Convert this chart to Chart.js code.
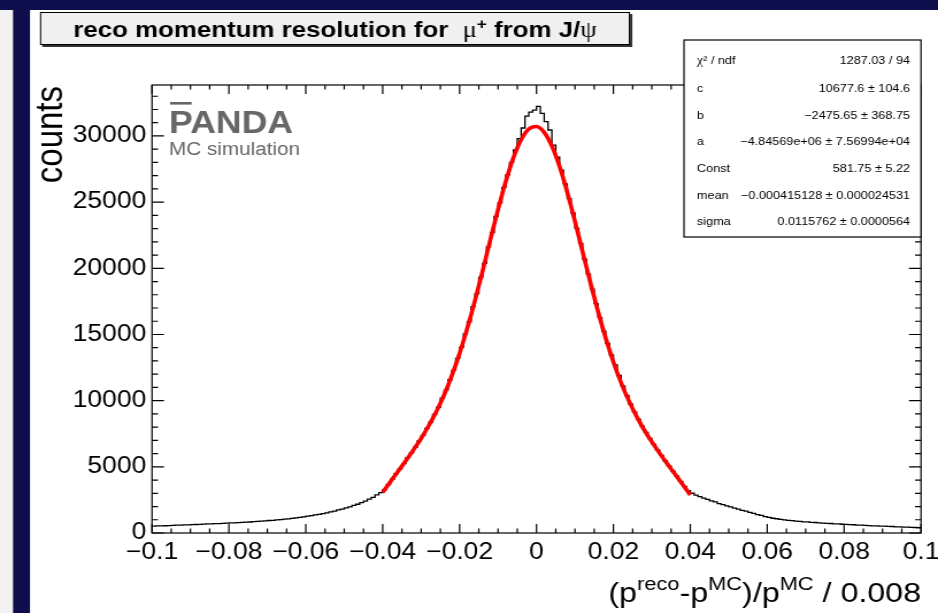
<!DOCTYPE html>
<html>
<head>
<meta charset="utf-8">
<script src="https://cdn.jsdelivr.net/npm/chart.js@4/dist/chart.umd.min.js"></script>
<style>
  html, body { margin: 0; padding: 0; background: #ffffff; overflow: hidden; }
  #c { display: block; }
</style>
</head>
<body>
<canvas id="c" width="816" height="613" style="width:938px;height:613px"></canvas>
<script>
// Momentum resolution histogram: 200 bins of width 0.001 on [-0.1, 0.1]
const binLow = -0.1;
const binWidth = 0.001;
const counts = [
  525, 531, 544, 546, 559, 571, 592, 598, 613, 620,
  638, 642, 655, 664, 683, 690, 709, 715, 733, 740,
  759, 768, 788, 797, 821, 833, 859, 873, 899, 915,
  944, 961, 993, 1012, 1049, 1072, 1112, 1139, 1184, 1218,
  1270, 1306, 1365, 1405, 1471, 1520, 1596, 1654, 1741, 1806,
  1902, 1979, 2088, 2174, 2297, 2404, 2552, 2694, 2878, 3052,
  3270, 3660, 4060, 4490, 4850, 5240, 5690, 6050, 6480, 6960,
  7370, 7900, 8370, 8960, 9490, 10180, 10790, 11580, 12300, 13190,
  14020, 15040, 15960, 17100, 18090, 19310, 20370, 21620, 22690, 23920,
  24940, 26100, 27060, 28000, 28950, 29800, 30600, 31500, 31800, 31950,
  32230, 31700, 31090, 30450, 29300, 28400, 27420, 26380, 25270, 24180,
  23020, 21880, 20700, 19560, 18420, 17330, 16280, 15260, 14320, 13450,
  12700, 11900, 11100, 10390, 9740, 9150, 8600, 8080, 7600, 7140,
  6700, 6270, 5860, 5460, 5060, 4670, 4290, 3900, 3520, 3200,
  3004, 2861, 2748, 2632, 2547, 2431, 2346, 2222, 2147, 2052,
  1968, 1873, 1806, 1713, 1647, 1562, 1487, 1394, 1336, 1243,
  1186, 1114, 1076, 1024, 996, 953, 936, 894, 880, 845,
  835, 807, 795, 764, 752, 726, 719, 695, 689, 663,
  654, 628, 623, 601, 594, 571, 563, 544, 539, 518,
  513, 494, 491, 470, 465, 444, 440, 421, 415, 398
];

// Fitted function (gaus + pol2) evaluated on the fit range [-0.04, 0.04]
const fitX = [
  -0.040, -0.038, -0.036, -0.034, -0.032, -0.030, -0.028, -0.026, -0.024, -0.022,
  -0.020, -0.018, -0.016, -0.014, -0.012, -0.010, -0.008, -0.006, -0.004, -0.002,
  0.000, 0.002, 0.004, 0.006, 0.008, 0.010, 0.012, 0.014, 0.016, 0.018,
  0.020, 0.022, 0.024, 0.026, 0.028, 0.030, 0.032, 0.034, 0.036, 0.038, 0.040
];
const fitY = [
  3082, 3878, 4665, 5458, 6280, 7156, 8120, 9210, 10463, 11911,
  13581, 15476, 17577, 19833, 22160, 24448, 26562, 28364, 29720, 30525,
  30713, 30270, 29232, 27683, 25741, 23544, 21230, 18927, 16734, 14720,
  12924, 11353, 9996, 8822, 7795, 6878, 6034, 5233, 4451, 3668, 2871
];

// Axis ticks
const xTickValues = [-0.1, -0.08, -0.06, -0.04, -0.02, 0, 0.02, 0.04, 0.06, 0.08, 0.1];
const xTickLabels = ['\u22120.1', '\u22120.08', '\u22120.06', '\u22120.04', '\u22120.02', '0', '0.02', '0.04', '0.06', '0.08', '0.1'];
const yTickValues = [0, 5000, 10000, 15000, 20000, 25000, 30000];
const yTickLabels = ['0', '5000', '10000', '15000', '20000', '25000', '30000'];
const yMax = 33850;

// Fit statistics box
const statLabels = ['c', 'b', 'a', 'Const', 'mean', 'sigma'];
const statValues = [
  '10677.6 \u00b1 104.6',
  '\u22122475.65 \u00b1 368.75',
  '\u22124.84569e+06 \u00b1 7.56994e+04',
  '581.75 \u00b1 5.22',
  '\u22120.000415128 \u00b1 0.000024531',
  '0.0115762 \u00b1 0.0000564'
];
const chi2Text = '1287.03 / 94';

// ---------------------------------------------------------------
const SX = 938 / 816;                 // canvas is widened by CSS
const W = 816, H = 613;
const X = v => v / SX;                // page x -> canvas x
const SANS = '"Liberation Sans", Arial, Helvetica, sans-serif';
const SERIF = '"Liberation Serif", "DejaVu Serif", serif';
const NAVY = '#0e0e4c';

const histPoints = counts.map((v, i) => ({ x: binLow + i * binWidth, y: v }));
histPoints.push({ x: binLow + counts.length * binWidth, y: counts[counts.length - 1] });
const fitPoints = fitX.map((x, i) => ({ x: x, y: fitY[i] }));

function drawRuns(ctx, runs, x, y, align) {
  let total = 0;
  runs.forEach(r => { ctx.font = r.font; r.w = ctx.measureText(r.text).width; total += r.w; });
  let cx = align === 'right' ? x - total : (align === 'center' ? x - total / 2 : x);
  ctx.textAlign = 'left';
  ctx.textBaseline = 'alphabetic';
  runs.forEach(r => { ctx.font = r.font; ctx.fillText(r.text, cx, y + (r.dy || 0)); cx += r.w; });
}

const decor = {
  id: 'decor',
  beforeDraw(chart) {
    const ctx = chart.ctx;
    ctx.save();
    ctx.fillStyle = '#ffffff';
    ctx.fillRect(0, 0, W, H);
    ctx.restore();
  },
  afterDatasetsDraw(chart) {
    const ctx = chart.ctx;
    const a = chart.chartArea;
    const xs = chart.scales.x, ys = chart.scales.y;
    ctx.save();
    ctx.strokeStyle = '#000';
    ctx.lineWidth = 1.2;
    ctx.strokeRect(a.left, a.top, a.right - a.left, a.bottom - a.top);
    ctx.beginPath();
    // x ticks, bottom and top, every 0.005
    for (let k = 0; k <= 40; k++) {
      const v = -0.1 + k * 0.005;
      const p = xs.getPixelForValue(v);
      const len = (k % 4 === 0) ? 9 : 4.5;
      ctx.moveTo(p, a.bottom); ctx.lineTo(p, a.bottom - len);
      ctx.moveTo(p, a.top); ctx.lineTo(p, a.top + len);
    }
    // y ticks, left and right, every 1000
    for (let v = 0; v <= yMax; v += 1000) {
      const p = ys.getPixelForValue(v);
      const len = (v % 5000 === 0) ? X(12) : X(6);
      ctx.moveTo(a.left, p); ctx.lineTo(a.left + len, p);
      ctx.moveTo(a.right, p); ctx.lineTo(a.right - len, p);
    }
    ctx.stroke();
    ctx.restore();
  },
  afterDraw(chart) {
    const ctx = chart.ctx;
    const a = chart.chartArea;
    ctx.save();

    // frame decoration
    ctx.fillStyle = '#f2f2f2';
    ctx.fillRect(0, 10, X(13), H - 10);
    ctx.fillStyle = NAVY;
    ctx.fillRect(0, 0, W, 10);
    ctx.fillRect(X(13), 0, X(17), H);

    // title box with shadow
    const tx0 = X(40), tx1 = X(630), ty0 = 12, ty1 = 45;
    ctx.fillStyle = '#333';
    ctx.fillRect(tx0 + 2, ty0 + 2, tx1 - tx0, ty1 - ty0);
    ctx.fillStyle = '#f0f0f0';
    ctx.fillRect(tx0, ty0, tx1 - tx0, ty1 - ty0);
    ctx.strokeStyle = '#000';
    ctx.lineWidth = 1;
    ctx.strokeRect(tx0 + 0.5, ty0 + 0.5, tx1 - tx0 - 1, ty1 - ty0 - 1);
    ctx.fillStyle = '#000';
    drawRuns(ctx, [
      { text: 'reco momentum resolution for  ', font: 'bold 22.5px ' + SANS },
      { text: '\u03bc', font: '23px ' + SERIF },
      { text: '+', font: 'bold 15px ' + SANS, dy: -8 },
      { text: ' from J/', font: 'bold 22.5px ' + SANS },
      { text: '\u03c8', font: '23px ' + SERIF }
    ], (tx0 + tx1) / 2, 37, 'center');

    // stats box
    const sx0 = X(684), sx1 = a.right, sy0 = 40, sy1 = 237;
    ctx.fillStyle = '#fff';
    ctx.fillRect(sx0, sy0, sx1 - sx0, sy1 - sy0);
    ctx.strokeStyle = '#000';
    ctx.lineWidth = 1.2;
    ctx.strokeRect(sx0, sy0, sx1 - sx0, sy1 - sy0);
    ctx.fillStyle = '#000';
    const rowY = [64, 92, 119, 145, 172, 199, 225];
    const lx = X(697), rx = X(910);
    const SF = '11px ' + SANS;
    drawRuns(ctx, [
      { text: '\u03c7', font: '12px ' + SERIF },
      { text: '\u00b2 / ndf', font: SF }
    ], lx, rowY[0], 'left');
    drawRuns(ctx, [{ text: chi2Text, font: SF }], rx, rowY[0], 'right');
    statLabels.forEach((lab, i) => {
      drawRuns(ctx, [{ text: lab, font: SF }], lx, rowY[i + 1], 'left');
      drawRuns(ctx, [{ text: statValues[i], font: SF }], rx, rowY[i + 1], 'right');
    });

    // PANDA logo
    ctx.fillStyle = '#676767';
    ctx.font = 'bold 31px ' + SANS;
    const px0 = X(169);
    ctx.textAlign = 'left';
    ctx.textBaseline = 'alphabetic';
    ctx.fillText('PANDA', px0, 133);
    const pw = ctx.measureText('P').width;
    ctx.fillRect(px0 + 1, 102, pw - 2, 2.6);
    ctx.font = '18px ' + SANS;
    ctx.fillText('MC simulation', px0, 155);

    // axis titles
    ctx.fillStyle = '#000';
    drawRuns(ctx, [
      { text: '(p', font: '28px ' + SANS },
      { text: 'reco', font: '19px ' + SANS, dy: -12 },
      { text: '-p', font: '28px ' + SANS },
      { text: 'MC', font: '19px ' + SANS, dy: -12 },
      { text: ')/p', font: '28px ' + SANS },
      { text: 'MC', font: '19px ' + SANS, dy: -12 },
      { text: ' / 0.008', font: '28px ' + SANS }
    ], a.right, 602, 'right');

    ctx.save();
    ctx.translate(X(62), a.top + 1);
    ctx.rotate(-Math.PI / 2);
    ctx.font = '33px ' + SANS;
    ctx.textAlign = 'right';
    ctx.textBaseline = 'alphabetic';
    ctx.fillText('counts', 0, 0);
    ctx.restore();

    ctx.restore();
  }
};

const canvas = document.getElementById('c');
new Chart(canvas, {
  type: 'line',
  data: {
    datasets: [
      {
        label: 'histogram',
        data: histPoints,
        stepped: 'before',
        borderColor: '#000000',
        borderWidth: 1.3,
        pointRadius: 0,
        fill: false,
        order: 1
      },
      {
        label: 'fit',
        data: fitPoints,
        borderColor: '#ff0000',
        borderWidth: 3.6,
        pointRadius: 0,
        fill: false,
        cubicInterpolationMode: 'monotone',
        order: 0
      }
    ]
  },
  options: {
    responsive: false,
    animation: false,
    devicePixelRatio: 1,
    layout: { padding: { top: 85, right: W - X(921), left: 0, bottom: 0 } },
    plugins: { legend: { display: false }, tooltip: { enabled: false }, title: { display: false } },
    scales: {
      x: {
        type: 'linear',
        min: -0.1,
        max: 0.1,
        grid: { display: false, drawTicks: false },
        border: { display: false },
        afterBuildTicks: s => { s.ticks = xTickValues.map(v => ({ value: v })); },
        afterFit: s => { s.height = H - 533; s.paddingLeft = 0; s.paddingRight = 0; },
        ticks: {
          autoSkip: false, maxRotation: 0, minRotation: 0, padding: 6,
          color: '#000', font: { family: SANS, size: 23 },
          callback: (v, i) => xTickLabels[i]
        }
      },
      y: {
        type: 'linear',
        min: 0,
        max: yMax,
        grid: { display: false, drawTicks: false },
        border: { display: false },
        afterBuildTicks: s => { s.ticks = yTickValues.map(v => ({ value: v })); },
        afterFit: s => { s.width = X(152); s.paddingTop = 0; s.paddingBottom = 0; },
        ticks: {
          autoSkip: false, padding: 5,
          color: '#000', font: { family: SANS, size: 23 },
          callback: (v, i) => yTickLabels[i]
        }
      }
    }
  },
  plugins: [decor]
});
// keep the widened display size
canvas.style.width = '938px';
canvas.style.height = '613px';
</script>
</body>
</html>
